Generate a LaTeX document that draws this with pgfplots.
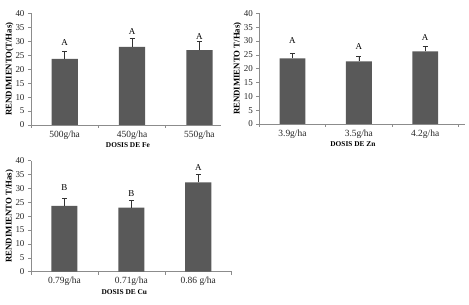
\documentclass[border=0pt]{standalone}
\usepackage{fontspec}
\setmainfont{Liberation Serif}
\usepackage{pgfplots}
\pgfplotsset{compat=1.18}
\definecolor{barc}{HTML}{595959}
\definecolor{axc}{HTML}{8C8C8C}
\pgfplotsset{
  panel/.style={
    scale only axis,
    ymin=0, ymax=40, ytick={0,5,...,40},
    axis x line*=bottom, axis y line*=left,
    axis line style={axc, line width=0.6bp, -},
    xmin=-0.5,
    xtick={-0.5,0.5,1.5,2.5}, xticklabels={},
    tick align=outside, major tick length=3bp,
    tick style={axc, line width=0.6bp},
    extra x tick style={major tick length=0pt},
    tick label style={font=\fontsize{9}{10}\selectfont, text=black!85},
    /pgf/number format/assume math mode=true,
    xticklabel style={font=\fontsize{9.5}{10}\selectfont, anchor=center, yshift=-10bp},
    label style={font=\bfseries\fontsize{8.8}{10}\selectfont},
    xlabel style={font=\bfseries\fontsize{7.4}{9}\selectfont, anchor=center, yshift=-20.5bp},
  },
  bars/.style={ybar, bar width=0.39, fill=barc, draw=none,
    error bars/.cd, y dir=plus, y explicit,
    error bar style={black!80, line width=0.6bp},
    error mark options={rotate=90, mark size=2.5bp, black!80, line width=0.6bp}},
  letters/.style={draw=none, mark=none, nodes near coords, point meta=explicit symbolic,
    nodes near coords style={anchor=center, font=\fontsize{9}{10}\selectfont, text=black}},
}
\begin{document}
\begin{tikzpicture}
\useasboundingbox (0,0) rectangle (469bp,305bp);
% Panel 1: Fe
\begin{axis}[panel, at={(31bp,180bp)}, anchor=south west,
  width=190bp, height=111.7bp, xmax=2.32,
  extra x ticks={0,1,2}, extra x tick labels={500g/ha,450g/ha,550g/ha},
  ylabel={RENDIMIENTO(T/Has)},
  ylabel style={at={(axis description cs:-0.113,0.5)}, anchor=center},
  xlabel={DOSIS DE Fe},
  xlabel style={at={(axis description cs:0.51,0)}}]
\addplot[bars] coordinates {(0,23.7) +- (0,2.8) (1,28.0) +- (0,3.2) (2,26.8) +- (0,3.0)};
\addplot[letters] coordinates {(0,29.4) [A] (1,33.3) [A] (2,31.8) [A]};
\end{axis}
% Panel 2: Zn
\begin{axis}[panel, at={(259.3bp,181bp)}, anchor=south west,
  width=205.7bp, height=110.7bp, xmax=2.6,
  extra x ticks={0,1,2}, extra x tick labels={3.9g/ha,3.5g/ha,4.2g/ha},
  ylabel={RENDIMIENTO T/Has)},
  ylabel style={at={(axis description cs:-0.106,0.5)}, anchor=center},
  xlabel={DOSIS DE Zn},
  xlabel style={at={(axis description cs:0.455,0)}}]
\addplot[bars] coordinates {(0,23.7) +- (0,1.7) (1,22.6) +- (0,1.7) (2,26.2) +- (0,1.8)};
\addplot[letters] coordinates {(0,30.3) [A] (1,27.9) [A] (2,31.2) [A]};
\end{axis}
% Panel 3: Cu
\begin{axis}[panel, at={(31bp,33.3bp)}, anchor=south west,
  width=200.7bp, height=111bp, xmax=2.5,
  extra x ticks={0,1,2}, extra x tick labels={0.79g/ha,0.71g/ha,0.86 g/ha},
  ylabel={RENDIMIENTO T/Has)},
  ylabel style={at={(axis description cs:-0.107,0.5)}, anchor=center},
  xlabel={DOSIS DE Cu},
  xlabel style={at={(axis description cs:0.465,0)}}]
\addplot[bars] coordinates {(0,23.7) +- (0,2.7) (1,23.1) +- (0,2.6) (2,32.2) +- (0,2.9)};
\addplot[letters] coordinates {(0,30.4) [B] (1,28.2) [B] (2,37.6) [A]};
\end{axis}
\end{tikzpicture}
\end{document}
